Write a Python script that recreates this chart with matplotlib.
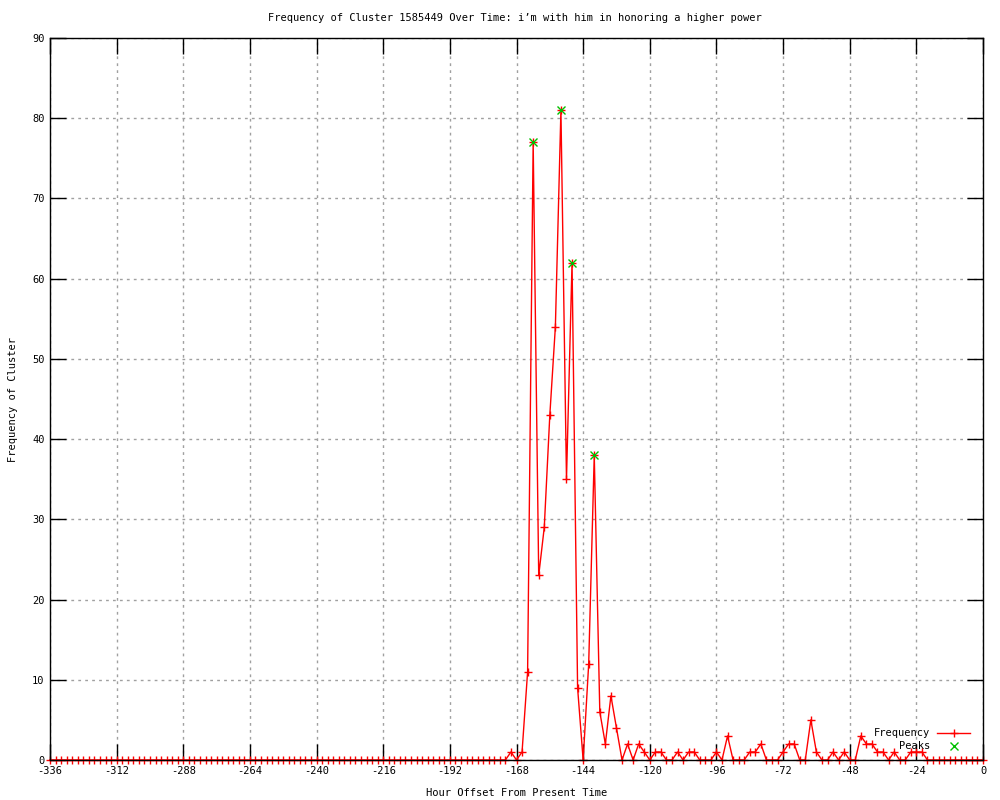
import numpy as np
import matplotlib
matplotlib.use("Agg")
import matplotlib.pyplot as plt
from matplotlib.lines import Line2D

plt.rcParams["axes.unicode_minus"] = False

title = "Frequency of Cluster 1585449 Over Time: i\u2019m with him in honoring a higher power"
xlabel = "Hour Offset From Present Time"
ylabel = "Frequency of Cluster"

# hours from -336 to 0 every 2 hours
hours = list(range(-336, 1, 2))
freq_early = [0] * 83  # -336 .. -172
freq_late = [1, 0, 1, 11, 77, 23, 29, 43, 54, 81,      # -170 .. -152
             35, 62, 9, 0, 12, 38, 6, 2, 8, 4,          # -150 .. -132
             0, 2, 0, 2, 1, 0, 1, 1, 0, 0,              # -130 .. -112
             1, 0, 1, 1, 0, 0, 0, 1, 0, 3,              # -110 .. -92
             0, 0, 0, 1, 1, 2, 0, 0, 0, 1,              # -90 .. -72
             2, 2, 0, 0, 5, 1, 0, 0, 1, 0,              # -70 .. -52
             1, 0, 0, 3, 2, 2, 1, 1, 0, 1,              # -50 .. -32
             0, 0, 1, 1, 1, 0, 0, 0, 0, 0,              # -30 .. -12
             0, 0, 0, 0, 0, 0]                          # -10 .. 0
frequency = freq_early + freq_late

peak_hours = [-162, -152, -148, -140]
peak_values = [77, 81, 62, 38]

xticks = list(range(-336, 1, 24))
yticks = list(range(0, 91, 10))

FONT = "DejaVu Sans Mono"
FS = 7.5

fig = plt.figure(figsize=(10, 8), dpi=100)
ax = fig.add_axes([0.05, 0.05, 0.933, 0.9025])

ax.plot(hours, frequency, color="red", lw=1.0, marker="+", ms=6, mew=1.0,
        clip_on=False, zorder=3)
ax.plot(peak_hours, peak_values, ls="none", color="#00c000", marker="x", ms=6,
        mew=1.0, clip_on=False, zorder=4)

ax.set_xlim(-336, 0)
ax.set_ylim(0, 90)
ax.set_xticks(xticks)
ax.set_yticks(yticks)
ax.tick_params(direction="in", length=11.5, width=1, top=True, right=True,
               labelsize=FS, pad=4)
for lab in ax.get_xticklabels() + ax.get_yticklabels():
    lab.set_family(FONT)
ax.grid(True, color="#a0a0a0", ls=(0, (2, 3)), lw=1)
for s in ax.spines.values():
    s.set_color("black")
    s.set_linewidth(1)
    s.set_zorder(5)

fig.text(0.5145, 1 - 18 / 800, title, ha="center", va="center",
         family=FONT, fontsize=FS)
fig.text(0.5165, 1 - 793 / 800, xlabel, ha="center", va="center",
         family=FONT, fontsize=FS)
fig.text(13 / 1000, 1 - 400 / 800, ylabel, ha="center", va="center",
         rotation=90, family=FONT, fontsize=FS)

# legend (gnuplot style, bottom right)
fig.text(930 / 1000, 1 - 733 / 800, "Frequency", ha="right", va="center",
         family=FONT, fontsize=FS)
fig.text(930 / 1000, 1 - 746 / 800, "Peaks", ha="right", va="center",
         family=FONT, fontsize=FS)
fig.add_artist(Line2D([937 / 1000, 970 / 1000], [1 - 733 / 800, 1 - 733 / 800],
                      color="red", lw=1.0, transform=fig.transFigure))
fig.add_artist(Line2D([953.5 / 1000], [1 - 733 / 800], color="red", marker="+",
                      ms=6, mew=1.0, ls="none", transform=fig.transFigure))
fig.add_artist(Line2D([953.5 / 1000], [1 - 746 / 800], color="#00c000", marker="x",
                      ms=6, mew=1.0, ls="none", transform=fig.transFigure))

fig.savefig("out.png", dpi=100)
